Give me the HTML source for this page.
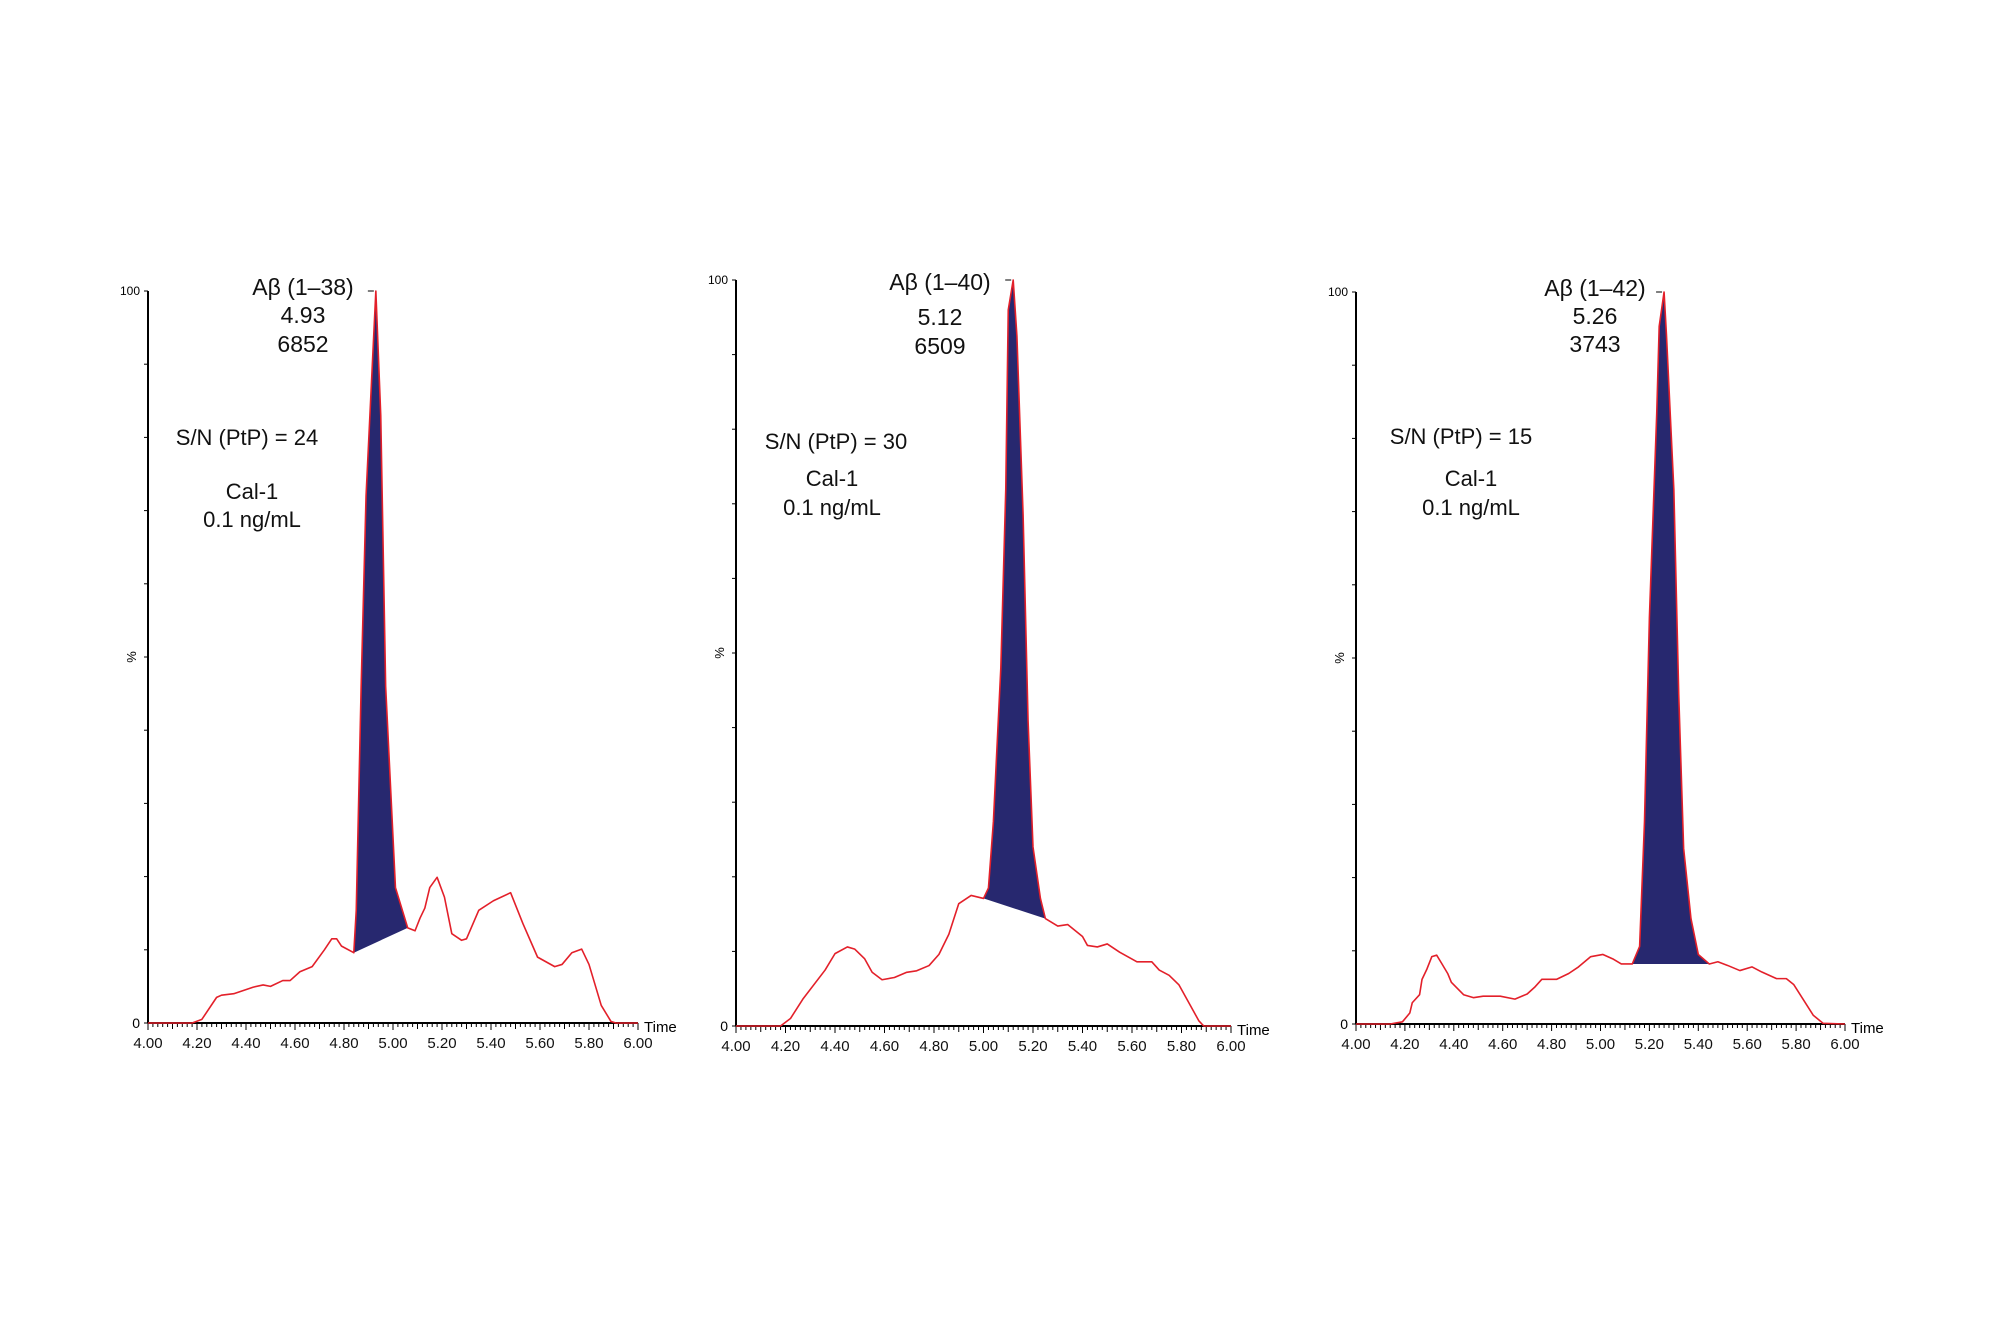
<!DOCTYPE html>
<html><head><meta charset="utf-8"><style>
body{margin:0;background:#fff}
svg{display:block;font-family:"Liberation Sans",Arial,sans-serif}
</style></head><body>
<svg id="chart" width="2000" height="1333" viewBox="0 0 2000 1333" xmlns="http://www.w3.org/2000/svg"></svg>
<script>
const times1 = [4.00,4.18,4.22,4.28,4.30,4.35,4.43,4.47,4.50,4.55,4.58,4.62,4.67,4.72,4.75,4.77,4.79,4.84,4.85,4.87,4.89,4.93,4.95,4.97,5.01,5.06,5.09,5.11,5.13,5.15,5.18,5.21,5.24,5.28,5.30,5.35,5.41,5.48,5.53,5.59,5.66,5.69,5.73,5.77,5.80,5.85,5.89,5.91,6.00];
const vals1 = [0,0,0.5,3.5,3.8,4.0,4.9,5.2,5.0,5.8,5.8,7.0,7.7,10,11.5,11.5,10.5,9.6,15.4,46,72,100,83,46,18.5,13,12.6,14.3,15.7,18.5,19.9,17.2,12.2,11.3,11.5,15.4,16.7,17.8,13.6,9,7.7,8,9.6,10.1,8,2.4,0.2,0,0];
const times2 = [4.00,4.18,4.22,4.27,4.36,4.40,4.45,4.48,4.52,4.55,4.59,4.64,4.69,4.73,4.78,4.82,4.86,4.90,4.95,5.00,5.02,5.04,5.07,5.09,5.10,5.12,5.135,5.16,5.18,5.20,5.23,5.25,5.30,5.34,5.40,5.42,5.46,5.50,5.55,5.62,5.68,5.71,5.75,5.79,5.83,5.87,5.89,6.00];
const vals2 = [0,0,1,3.6,7.5,9.7,10.6,10.3,9.0,7.2,6.2,6.5,7.2,7.4,8.1,9.6,12.3,16.4,17.5,17.1,18.5,27.4,48,72,96,100,92.5,68.5,41,24,17.1,14.4,13.4,13.6,12,10.8,10.6,11,9.9,8.6,8.6,7.5,6.8,5.5,3.1,0.7,0,0];
const times3 = [4.00,4.14,4.19,4.22,4.23,4.26,4.27,4.29,4.31,4.33,4.35,4.375,4.39,4.44,4.48,4.52,4.59,4.65,4.70,4.73,4.76,4.82,4.87,4.91,4.96,5.01,5.05,5.085,5.13,5.16,5.18,5.20,5.23,5.24,5.26,5.27,5.30,5.32,5.34,5.37,5.40,5.445,5.48,5.52,5.57,5.62,5.66,5.72,5.76,5.79,5.83,5.87,5.91,6.00];
const vals3 = [0,0,0.3,1.5,2.9,4.0,6.1,7.5,9.2,9.4,8.3,6.9,5.7,4.0,3.6,3.8,3.8,3.4,4.1,5.0,6.1,6.1,6.9,7.8,9.2,9.5,8.9,8.2,8.2,10.6,27.7,55.5,83.4,95.3,100,94,73,45,24,14.4,9.5,8.2,8.5,8.0,7.3,7.8,7.1,6.2,6.2,5.4,3.3,1.2,0.1,0];
const peakStart = [4.84, 5.00, 5.13];
const peakEnd = [5.06, 5.25, 5.445];
const peakNames = ["Aβ (1–38)","Aβ (1–40)","Aβ (1–42)"];
const peakRT = ["4.93","5.12","5.26"];
const peakArea = ["6852","6509","3743"];
const snText = ["S/N (PtP) = 24","S/N (PtP) = 30","S/N (PtP) = 15"];
const xTickLabels = ["4.00","4.20","4.40","4.60","4.80","5.00","5.20","5.40","5.60","5.80","6.00"];

const NS="http://www.w3.org/2000/svg";
const svg=document.getElementById('chart');
function mk(tag,attrs,parent){const e=document.createElementNS(NS,tag);for(const k in attrs)e.setAttribute(k,attrs[k]);(parent||svg).appendChild(e);return e;}

const panels=[
 {x0:148,x1:638,y0:1023,y100:291,t:times1,v:vals1,lab:[303,295,323,352],sn:[247,445],cal:[252,499,527]},
 {x0:736,x1:1231,y0:1026,y100:280,t:times2,v:vals2,lab:[940,290,325,354],sn:[836,449],cal:[832,486,515]},
 {x0:1356,x1:1845,y0:1024,y100:292,t:times3,v:vals3,lab:[1595,296,324,352],sn:[1461,444],cal:[1471,486,515]}
];

panels.forEach((p,i)=>{
 const g=mk('g',{});
 
 
 const X=t=>p.x0+(t-4)/2*(p.x1-p.x0);
 const Y=v=>p.y0-v/100*(p.y0-p.y100);
 const interp=t=>{for(let k=0;k<p.t.length-1;k++){if(t>=p.t[k]&&t<=p.t[k+1]){const f=(t-p.t[k])/(p.t[k+1]-p.t[k]);return p.v[k]+f*(p.v[k+1]-p.v[k]);}}return 0;};
 // fill
 const s=peakStart[i],e=peakEnd[i];
 const vs=interp(s),ve=interp(e);
 let d='M'+X(s)+','+Y(vs);
 p.t.forEach((t,k)=>{if(t>s&&t<e)d+=' L'+X(t)+','+Y(p.v[k]);});
 d+=' L'+X(e)+','+Y(ve)+' Z';
 const fill=mk('path',{d:d,fill:'#27286f',stroke:'none'},g);
 
 
 // axes
 const ya=mk('line',{x1:p.x0,y1:p.y100,x2:p.x0,y2:p.y0,stroke:'#000','stroke-width':2},g);
 
 
 const xa=mk('line',{x1:p.x0,y1:p.y0,x2:p.x1,y2:p.y0,stroke:'#000','stroke-width':2},g);
 
 
 for(let k=0;k<=10;k++){
  const tk=mk('line',{x1:p.x0-4,y1:Y(k*10),x2:p.x0,y2:Y(k*10),stroke:'#000','stroke-width':1},g);
  
  
 }
 for(let k=0;k<=100;k++){
  const t=4+k*0.02;const major=k%10===0;const mid=k%5===0;
  const tk=mk('line',{x1:X(t),y1:p.y0,x2:X(t),y2:p.y0+(major?7:(mid?6:4)),stroke:'#000','stroke-width':1},g);
  
  
 }
 xTickLabels.forEach((l,k)=>{
  const tl=mk('text',{x:X(4+k*0.2),y:p.y0+25,'font-size':15,'text-anchor':'middle',fill:'#111'},g);
  tl.textContent=l;
  
  
 });
 const z=mk('text',{x:p.x0-8,y:p.y0+5,'font-size':14,'text-anchor':'end'},g);z.textContent='0';
 
 
 const h=mk('text',{x:p.x0-8,y:p.y100+4,'font-size':12,'text-anchor':'end'},g);h.textContent='100';
 
 
 const pc=mk('text',{x:p.x0-12,y:Y(50),'font-size':13,'text-anchor':'middle',transform:'rotate(-90 '+(p.x0-12)+' '+Y(50)+')'},g);pc.textContent='%';
 
 
 const tm=mk('text',{x:p.x1+6,y:p.y0+9,'font-size':15},g);tm.textContent='Time';
 
 
 // curve
 const pts=p.t.map((t,k)=>X(t)+','+Y(p.v[k])).join(' ');
 const ln=mk('polyline',{points:pts,fill:'none',stroke:'#e3202a','stroke-width':1.6,'stroke-linejoin':'round'},g);
 
 
 // peak marker dash
 const pk=p.t[p.v.indexOf(100)];
 const dash=mk('line',{x1:X(pk)-8,y1:p.y100,x2:X(pk)-2,y2:p.y100,stroke:'#000','stroke-width':1},g);
 
 
 // annotations
 const a=p.lab;
 [[peakNames[i],a[1],'peak-name'],[peakRT[i],a[2],'retention-time'],[peakArea[i],a[3],'peak-area']].forEach(r=>{
  const t=mk('text',{x:a[0],y:r[1],'font-size':23,'text-anchor':'middle',fill:'#111'},g);t.textContent=r[0];
  
  
 });
 const sn=mk('text',{x:p.sn[0],y:p.sn[1],'font-size':22,'text-anchor':'middle',fill:'#111'},g);sn.textContent=snText[i];
 
 
 const c1=mk('text',{x:p.cal[0],y:p.cal[1],'font-size':22,'text-anchor':'middle',fill:'#111'},g);c1.textContent='Cal-1';
 
 
 const c2=mk('text',{x:p.cal[0],y:p.cal[2],'font-size':22,'text-anchor':'middle',fill:'#111'},g);c2.textContent='0.1 ng/mL';
 
 
});
</script>
</body></html>
